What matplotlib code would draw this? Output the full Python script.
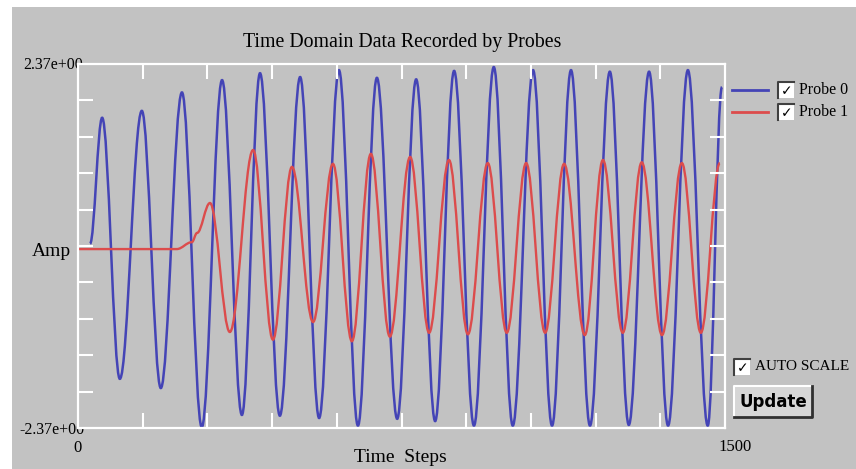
import matplotlib
matplotlib.use("Agg")
from matplotlib import pyplot as plt
from matplotlib.patches import Rectangle, PathPatch
from matplotlib.path import Path

# probe readings at the turning points
blue_steps = [28, 56, 97, 148, 192, 241, 287, 334, 380, 422, 468, 515, 559, 605, 649, 693, 740,
              784, 828, 872, 918, 964, 1008, 1055, 1099, 1143, 1187, 1233, 1277, 1324, 1368, 1414, 1460, 1493]
blue_amps = [0.03, 1.67, -1.73, 1.76, -1.85, 2.00, -2.36, 2.16, -2.20, 2.25, -2.21, 2.20, -2.24, 2.29,
             -2.34, 2.19, -2.25, 2.17, -2.28, 2.28, -2.34, 2.33, -2.34, 2.29, -2.34, 2.29, -2.34, 2.27,
             -2.33, 2.27, -2.34, 2.29, -2.34, 2.07]

red_steps = [0, 229, 264, 276, 306, 352, 406, 452, 496, 545, 591, 635, 679, 723, 770, 814, 860, 904,
             950, 994, 1039, 1083, 1127, 1175, 1217, 1263, 1307, 1354, 1400, 1444, 1488]
red_amps = [-0.04, -0.04, 0.05, 0.17, 0.56, -1.12, 1.25, -1.22, 1.03, -0.99, 1.07, -1.24, 1.20, -1.18,
            1.16, -1.13, 1.12, -1.15, 1.08, -1.13, 1.08, -1.13, 1.07, -1.16, 1.12, -1.13, 1.09, -1.16,
            1.08, -1.13, 1.08]

x_max = 1500
y_max = 2.37
probe_names = ["Probe 0", "Probe 1"]
probe_colors = ["#4444b6", "#dc4c4c"]

W, H = 856, 469
GRAY = "#c2c2c2"
SERIF = "Liberation Serif"


def px(x, y):
    # pixel position (from top left) -> figure fraction
    return x / W, 1 - y / H


def box(fig, x0, y0, x1, y1, **kw):
    fx, fy = px(x0, y1)
    fig.patches.append(Rectangle((fx, fy), (x1 - x0) / W, (y1 - y0) / H,
                                 transform=fig.transFigure, **kw))


def checkbox(fig, x0, y0, size):
    box(fig, x0, y0, x0 + size, y0 + size, facecolor="white", edgecolor="none")
    fig.add_artist(plt.Line2D([px(x0, 0)[0], px(x0, 0)[0], px(x0 + size, 0)[0]],
                              [px(0, y0 + size)[1], px(0, y0)[1], px(0, y0)[1]],
                              color="#404040", lw=1.5, transform=fig.transFigure))
    fig.text(*px(x0 + size / 2 + 1, y0 + size / 2 + 1), "\u2713", ha="center", va="center",
             fontsize=10, fontweight="bold", color="black", family="DejaVu Sans")


def smooth_path(xs, ys):
    # smooth curve through the turning points (flat tangent at each of them)
    verts = [(xs[0], ys[0])]
    codes = [Path.MOVETO]
    for i in range(1, len(xs)):
        d = (xs[i] - xs[i - 1]) * 0.364
        verts += [(xs[i - 1] + d, ys[i - 1]), (xs[i] - d, ys[i]), (xs[i], ys[i])]
        codes += [Path.CURVE4] * 3
    return Path(verts, codes)


fig = plt.figure(figsize=(W / 100, H / 100), dpi=100)
fig.patch.set_facecolor("white")
box(fig, 12, 7, W, H, facecolor=GRAY, edgecolor="none", zorder=-2)

ax = fig.add_axes([78 / W, 1 - 428 / H, 647 / W, 364 / H])
ax.set_facecolor(GRAY)
ax.add_patch(PathPatch(smooth_path(blue_steps, blue_amps), facecolor="none",
                       edgecolor=probe_colors[0], lw=1.8))
ax.add_patch(PathPatch(smooth_path(red_steps, red_amps), facecolor="none",
                       edgecolor=probe_colors[1], lw=1.7))
ax.set_xlim(0, x_max)
ax.set_ylim(-y_max, y_max)
ax.set_xticks([150 * i for i in range(1, 10)])
ax.set_yticks([y_max / 5 * i for i in range(-4, 5)])
ax.tick_params(which="both", direction="in", length=11, width=1.5, color="white",
               top=True, right=True, labelbottom=False, labelleft=False)
for s in ax.spines.values():
    s.set_color("white")
    s.set_linewidth(1.6)

# text around the plot
fig.text(*px(402, 42), "Time Domain Data Recorded by Probes", ha="center", va="center",
         fontsize=14.3, family=SERIF)
fig.text(*px(83, 65), "2.37e+00", ha="right", va="center", fontsize=11.5, family=SERIF, zorder=-1)
fig.text(*px(85, 430), "-2.37e+00", ha="right", va="center", fontsize=11.5, family=SERIF, zorder=-1)
fig.text(*px(71, 252), "Amp", ha="right", va="center", fontsize=14, family=SERIF)
fig.text(*px(78, 448), "0", ha="center", va="center", fontsize=12, family=SERIF)
fig.text(*px(735, 447), "1500", ha="center", va="center", fontsize=12, family=SERIF)
fig.text(*px(400, 457), "Time  Steps", ha="center", va="center", fontsize=14, family=SERIF)

# legend with check boxes
for i, (name, col) in enumerate(zip(probe_names, probe_colors)):
    y = 90 + 22 * i
    fig.add_artist(plt.Line2D([px(732, 0)[0], px(768, 0)[0]], [px(0, y)[1]] * 2,
                              color=col, lw=2, transform=fig.transFigure))
    checkbox(fig, 778, y - 8, 16)
    fig.text(*px(799, y), name, ha="left", va="center", fontsize=11.5, family=SERIF)

checkbox(fig, 734, 359, 16)
fig.text(*px(755, 367), "AUTO SCALE", ha="left", va="center", fontsize=11, family=SERIF)

# Update button
box(fig, 734, 386, 812, 417, facecolor="#d6d6d6", edgecolor="none")
fig.add_artist(plt.Line2D([px(734, 0)[0], px(734, 0)[0], px(812, 0)[0]],
                          [px(0, 417)[1], px(0, 386)[1], px(0, 386)[1]],
                          color="white", lw=1.5, transform=fig.transFigure))
fig.add_artist(plt.Line2D([px(734, 0)[0], px(812, 0)[0], px(812, 0)[0]],
                          [px(0, 417)[1], px(0, 417)[1], px(0, 386)[1]],
                          color="#303030", lw=2, transform=fig.transFigure))
fig.text(*px(773, 402), "Update", ha="center", va="center", fontsize=12, fontweight="bold",
         family="DejaVu Sans")

fig.savefig("out.png", dpi=100, facecolor=fig.get_facecolor())
